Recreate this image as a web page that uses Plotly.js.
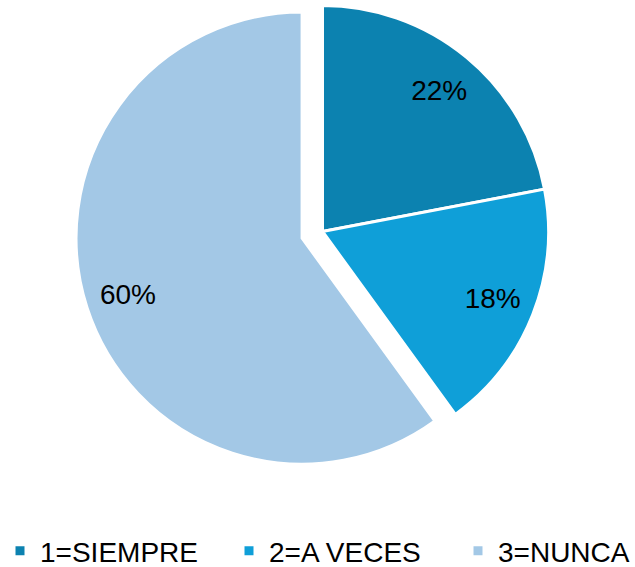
<!DOCTYPE html>
<html>
<head>
<meta charset="utf-8">
<script src="https://cdn.plot.ly/plotly-3.0.1.min.js"></script>
<style>
html,body{margin:0;padding:0;overflow:hidden;background:#fff;width:635px;height:567px;position:relative;}
#chart{position:absolute;left:0;top:-30px;width:700px;height:597px;}
</style>
</head>
<body>
<div id="chart"></div>
<script>
const categories = ['1=SIEMPRE', '2=A VECES', '3=NUNCA'];
const values = [22, 18, 60];
const sliceColors = ['#0C82B0', '#0F9FD8', '#A3C8E6'];
const pulls = [0, 0, 0.095];

const fontFam = 'Liberation Sans, Arial, sans-serif';
const pieDomain = {x: [75 / 700, 570 / 700], y: [0, 1]};

const slices = {
  type: 'pie',
  labels: categories,
  values: values,
  sort: false,
  direction: 'clockwise',
  rotation: 0,
  pull: pulls,
  marker: {colors: sliceColors, line: {color: '#ffffff', width: 3}},
  textinfo: 'none',
  domain: pieDomain,
  showlegend: true
};

// transparent overlay carrying the percentage labels (placed further out via a hole)
const labelsTrace = {
  type: 'pie',
  labels: categories,
  values: values,
  sort: false,
  direction: 'clockwise',
  rotation: 0,
  pull: pulls,
  hole: 0.62,
  marker: {colors: ['rgba(0,0,0,0)', 'rgba(0,0,0,0)', 'rgba(0,0,0,0)'], line: {width: 0}},
  texttemplate: '%{percent:.0%}',
  textposition: 'inside',
  insidetextorientation: 'horizontal',
  textfont: {family: fontFam, size: 28, color: '#000000'},
  domain: pieDomain,
  showlegend: false
};

const layout = {
  width: 700,
  height: 597,
  margin: {l: 0, r: 0, t: 14, b: 88},
  paper_bgcolor: '#ffffff',
  showlegend: true,
  legend: {
    orientation: 'h',
    xref: 'paper', yref: 'container',
    x: 0, xanchor: 'left',
    y: 0.0268, yanchor: 'middle',
    entrywidth: 184,
    font: {family: fontFam, size: 28, color: '#000000'},
    bgcolor: 'rgba(0,0,0,0)'
  },
  font: {family: fontFam}
};

Plotly.newPlot('chart', [slices, labelsTrace], layout, {displayModeBar: false, staticPlot: true});
</script>
</body>
</html>
